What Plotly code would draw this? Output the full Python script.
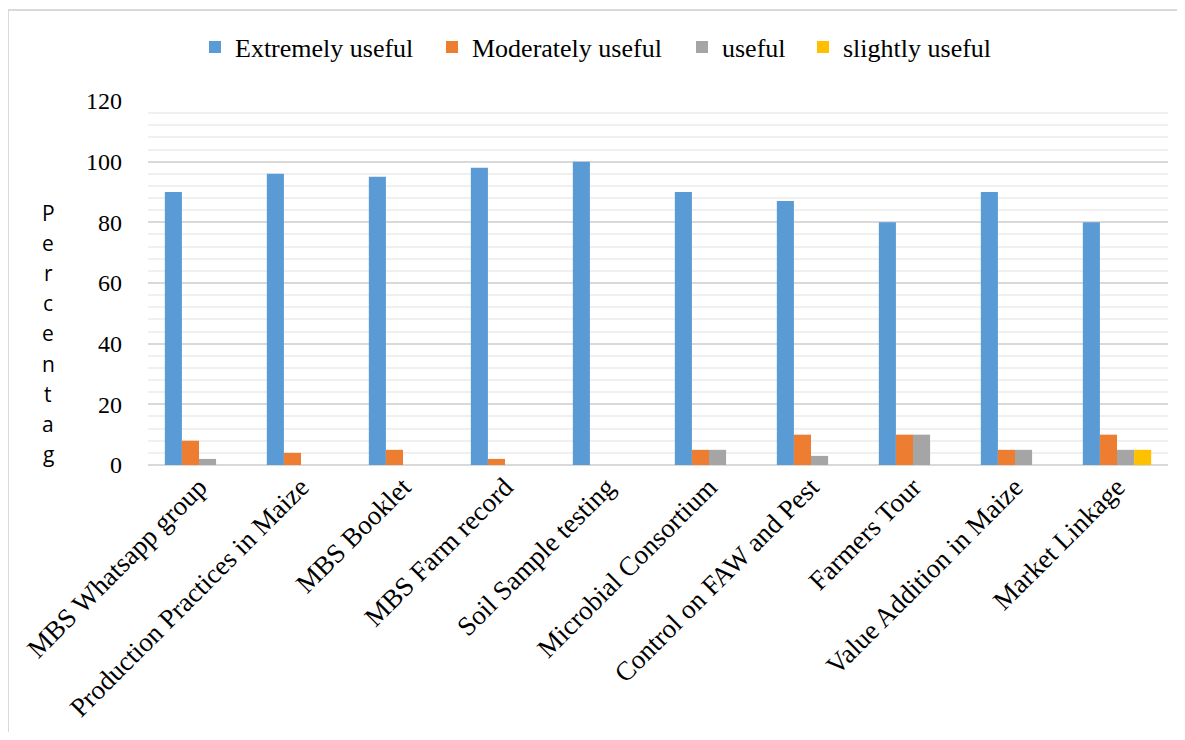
import plotly.graph_objects as go

# categories and series values
categories = ["MBS Whatsapp group", "Production Practices in Maize", "MBS Booklet",
              "MBS Farm record", "Soil Sample testing", "Microbial Consortium",
              "Control on FAW and Pest", "Farmers Tour", "Value Addition in Maize",
              "Market Linkage"]
extremely = [90, 96, 95, 98, 100, 90, 87, 80, 90, 80]
moderately = [8, 4, 5, 2, 0, 5, 10, 10, 5, 10]
useful = [2, 0, 0, 0, 0, 5, 3, 10, 5, 5]
slightly = [0, 0, 0, 0, 0, 0, 0, 0, 0, 5]
y_title = "Percentag"

series = [("Extremely useful", extremely, "#5b9bd5"),
          ("Moderately useful", moderately, "#ed7d31"),
          ("useful", useful, "#a5a5a5"),
          ("slightly useful", slightly, "#ffc000")]

SERIF = "Liberation Serif, Times New Roman, serif"

# page has an 8px body margin, so the figure is sized to fit the window
W, H = 1169, 724
L, R, T, B = 140, 9, 93, 267
pw, ph = W - L - R, H - T - B

# left edge of each legend entry (figure px), one legend per series
legend_x = [187, 424, 674, 795]
legend_ids = ["legend", "legend2", "legend3", "legend4"]

fig = go.Figure()
for (name, vals, col), lid in zip(series, legend_ids):
    fig.add_trace(go.Bar(x=categories, y=vals, name=name, marker_color=col,
                         marker_line_width=0, legend=lid, showlegend=True))

legends = {}
for lid, lx in zip(legend_ids, legend_x):
    legends[lid] = dict(orientation="h", xref="container", yref="container",
                        x=lx / W, xanchor="left", y=1 - 39 / H, yanchor="middle",
                        font=dict(size=26, family=SERIF, color="black"),
                        bgcolor="rgba(0,0,0,0)", borderwidth=0, visible=True)

fig.update_layout(
    width=W, height=H,
    showlegend=True,
    margin=dict(l=L, r=R, t=T, b=B, autoexpand=False),
    plot_bgcolor="white", paper_bgcolor="white",
    barmode="group", bargap=0.33, bargroupgap=0,
    font=dict(family=SERIF, color="black", size=24),
    xaxis=dict(tickangle=-45, showgrid=False, showline=False, ticks="", automargin=False,
               tickfont=dict(size=27, family=SERIF, color="black")),
    yaxis=dict(range=[0, 120], dtick=20, showgrid=True, gridcolor="#d9d9d9",
               gridwidth=2, zeroline=True, zerolinecolor="#d9d9d9", zerolinewidth=2,
               minor=dict(dtick=4, showgrid=True, gridcolor="#f0f0f0", gridwidth=2),
               ticks="", ticklabelstandoff=25, automargin=False,
               tickfont=dict(size=24, family=SERIF, color="black")),
    **legends,
)

# vertical stacked axis title, one letter per row
for i, ch in enumerate(y_title):
    yf = 205 + 30.1 * i
    fig.add_annotation(text=ch, xref="paper", yref="paper",
                       x=(40 - L) / pw, y=1 - (yf - T) / ph,
                       xanchor="center", yanchor="middle", showarrow=False,
                       font=dict(family="Open Sans", size=21, color="black"))

# chart border (left and top visible)
x0 = (0 - L) / pw
y1 = 1 + (T - 2) / ph
fig.add_shape(type="line", xref="paper", yref="paper", x0=x0, x1=x0, y0=y1, y1=-1.0,
              line=dict(color="#d9d9d9", width=2))
fig.add_shape(type="line", xref="paper", yref="paper", x0=x0, x1=1.2, y0=y1, y1=y1,
              line=dict(color="#d9d9d9", width=2))

fig.write_html("out.html")
